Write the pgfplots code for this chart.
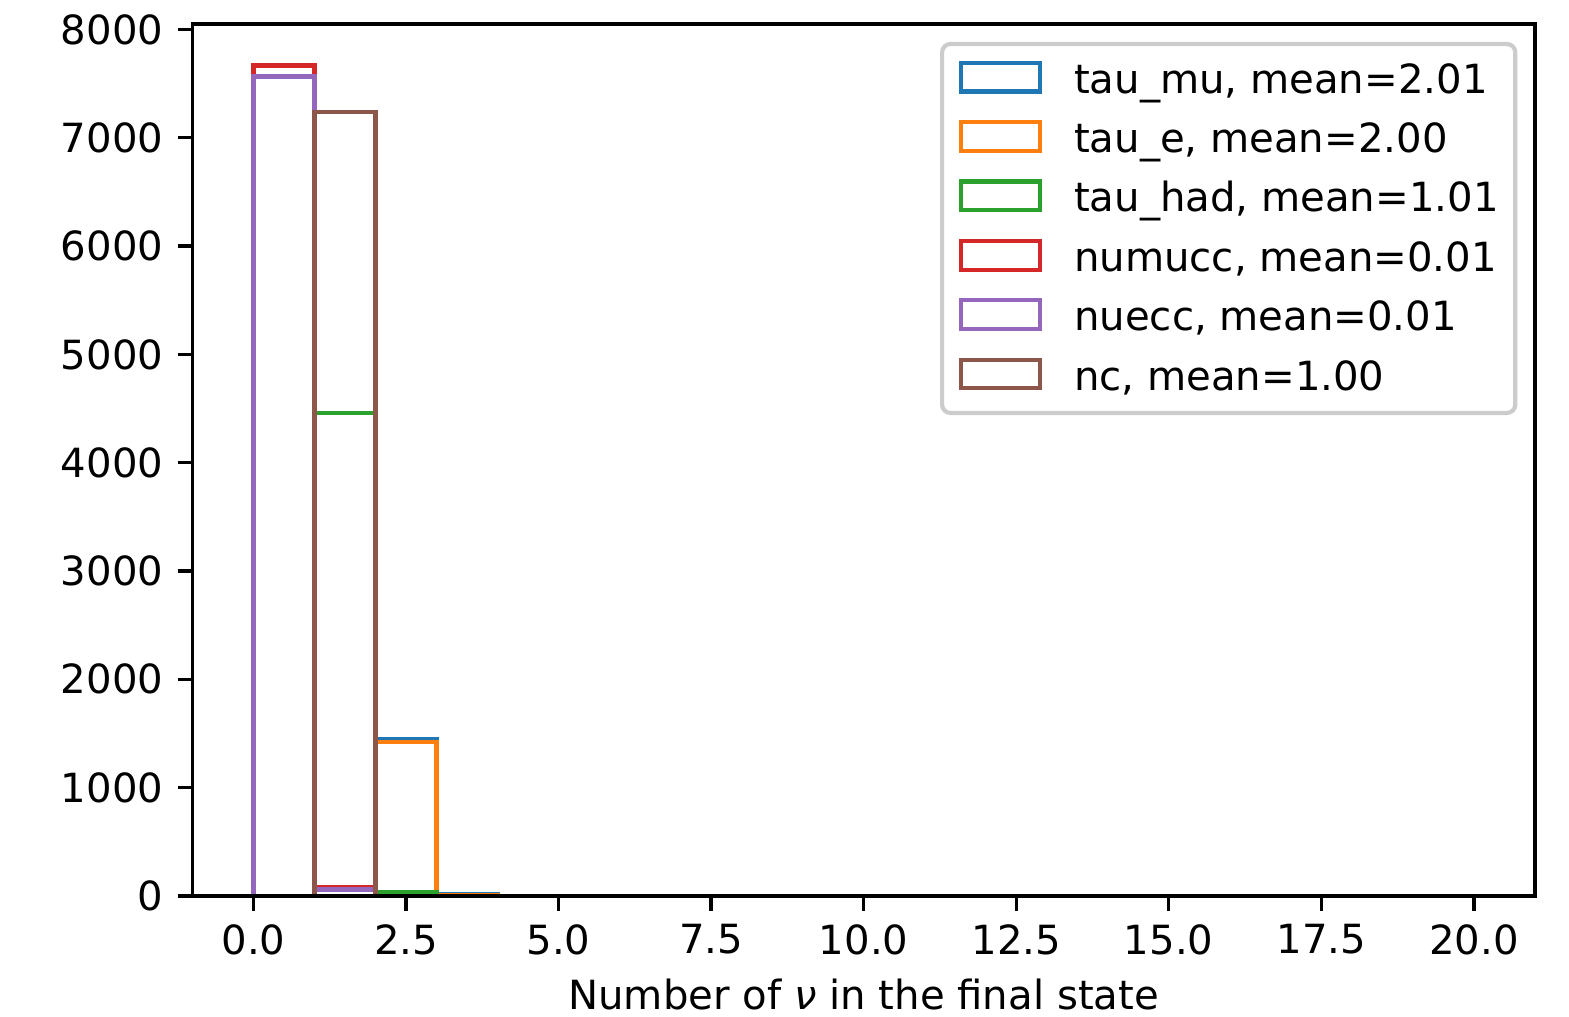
\documentclass[border=0pt]{standalone}
\usepackage{fontspec}
\setmainfont{DejaVu Sans}
\usepackage{pgfplots}
\pgfplotsset{compat=1.18}
\definecolor{c0}{HTML}{1F77B4}
\definecolor{c1}{HTML}{FF7F0E}
\definecolor{c2}{HTML}{2CA02C}
\definecolor{c3}{HTML}{D62728}
\definecolor{c4}{HTML}{9467BD}
\definecolor{c5}{HTML}{8C564B}
\newcommand{\fs}{\fontsize{9.65pt}{11.6pt}\selectfont}
\begin{document}
\fs
\begin{tikzpicture}
\begin{axis}[
  scale only axis,
  width=322.2pt, height=209.3pt,
  xmin=-1, xmax=21, ymin=0, ymax=8050,
  axis on top,
  axis line style={line width=0.8pt},
  tick align=outside,
  major tick length=3.5pt,
  every tick/.style={black, line width=0.8pt},
  xtick={0,2.5,...,20},
  ytick={0,1000,...,8000},
  minor tick num=0,
  xtick pos=bottom, ytick pos=left,
  /pgf/number format/assume math mode=true,
  tick label style={font=\fs, inner sep=0pt},
  xticklabel style={yshift=-3.1pt, /pgf/number format/.cd, fixed, fixed zerofill, precision=1},
  yticklabel style={xshift=-3.3pt, /pgf/number format/.cd, fixed, 1000 sep={}},
  scaled ticks=false,
  xlabel={Number of \textit{ν} in the final state},
  xlabel style={at={(axis description cs:0.5,0)}, anchor=base, yshift=-27.2pt, font=\fs},
  legend cell align=left,
  legend image code/.code={%
    \draw[#1, line width=1pt, sharp corners] (0.5pt,-2.6pt) rectangle (19.5pt,4.3pt);
    \path[draw=none] (0pt,0pt) -- (27.7pt,0pt);
  },
  legend style={at={(axis description cs:1,1)}, anchor=north east, xshift=-4.2pt, yshift=-4.3pt,
    draw=black!20, line width=1pt, rounded corners=2pt, fill=white, fill opacity=0.8, text opacity=1,
    inner sep=4pt, row sep=4.95pt, column sep=0pt,
    nodes={inner sep=0pt, text height=7.5pt, text depth=1.5pt, font=\fs}},
  every axis plot/.append style={const plot mark left, line width=1pt, mark=none},
]
\addplot[c0] coordinates {(0,0) (0,0) (1,0) (2,1450) (3,20) (4,0) (5,0) (6,0) (7,0) (8,0) (9,0) (10,0) (11,0) (12,0) (13,0) (14,0) (15,0) (16,0) (17,0) (18,0) (19,0) (20,0)};
\addlegendentry{tau\_mu, mean=2.01}
\addplot[c1] coordinates {(0,0) (0,0) (1,0) (2,1419) (3,5) (4,0) (5,0) (6,0) (7,0) (8,0) (9,0) (10,0) (11,0) (12,0) (13,0) (14,0) (15,0) (16,0) (17,0) (18,0) (19,0) (20,0)};
\addlegendentry{tau\_e, mean=2.00}
\addplot[c2] coordinates {(0,0) (0,0) (1,4460) (2,35) (3,1) (4,0) (5,0) (6,0) (7,0) (8,0) (9,0) (10,0) (11,0) (12,0) (13,0) (14,0) (15,0) (16,0) (17,0) (18,0) (19,0) (20,0)};
\addlegendentry{tau\_had, mean=1.01}
\addplot[c3] coordinates {(0,0) (0,7667) (1,83) (2,0) (3,0) (4,0) (5,0) (6,0) (7,0) (8,0) (9,0) (10,0) (11,0) (12,0) (13,0) (14,0) (15,0) (16,0) (17,0) (18,0) (19,0) (20,0)};
\addlegendentry{numucc, mean=0.01}
\addplot[c4] coordinates {(0,0) (0,7565) (1,60) (2,0) (3,0) (4,0) (5,0) (6,0) (7,0) (8,0) (9,0) (10,0) (11,0) (12,0) (13,0) (14,0) (15,0) (16,0) (17,0) (18,0) (19,0) (20,0)};
\addlegendentry{nuecc, mean=0.01}
\addplot[c5] coordinates {(0,0) (0,0) (1,7236) (2,0) (3,0) (4,0) (5,0) (6,0) (7,0) (8,0) (9,0) (10,0) (11,0) (12,0) (13,0) (14,0) (15,0) (16,0) (17,0) (18,0) (19,0) (20,0)};
\addlegendentry{nc, mean=1.00}
\end{axis}
\pgfresetboundingbox
\path[use as bounding box] (current axis.south west) ++(-46.2pt,-29.04pt) rectangle ++(376.6pt,244.1pt);
\end{tikzpicture}
\end{document}
